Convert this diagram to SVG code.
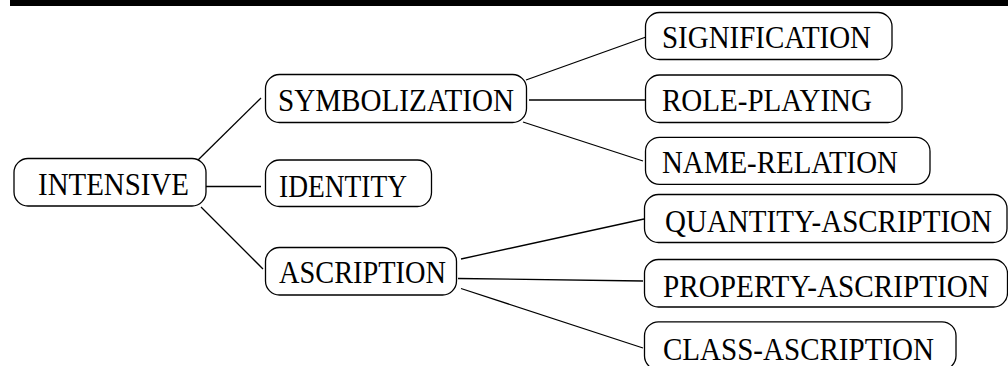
<svg xmlns="http://www.w3.org/2000/svg" width="1008" height="366" viewBox="0 0 1008 366">
  <style>
    .box { fill: #ffffff; stroke: #000000; stroke-width: 1.3; }
    .lbl { font-family: "Liberation Serif", "Times New Roman", serif; font-size: 30.5px; fill: #000000; }
    .edge { stroke: #000000; stroke-width: 1.3; fill: none; }
  </style>
  <rect width="1008" height="366" fill="#ffffff"/>
  <!-- heavy rule across the top -->
  <rect x="10" y="0" width="998" height="6" fill="#000000"/>

  <g id="connectors">
    <line class="edge" x1="196" y1="162" x2="261" y2="98"/>
    <line class="edge" x1="206" y1="186.5" x2="261" y2="186.5"/>
    <line class="edge" x1="201" y1="207" x2="263" y2="269"/>
    <line class="edge" x1="526" y1="80" x2="646" y2="37"/>
    <line class="edge" x1="529" y1="100" x2="645" y2="100"/>
    <line class="edge" x1="523" y1="122" x2="643" y2="161"/>
    <line class="edge" x1="461" y1="259" x2="644" y2="219"/>
    <line class="edge" x1="458" y1="278.5" x2="643" y2="281"/>
    <line class="edge" x1="461" y1="288.5" x2="643" y2="348"/>
  </g>

  <g id="intensive">
    <rect class="box" x="14" y="158.5" width="192" height="47.5" rx="14"/>
    <text class="lbl" x="38" y="195" textLength="151" lengthAdjust="spacingAndGlyphs">INTENSIVE</text>
  </g>
  <g id="symbolization">
    <rect class="box" x="265.5" y="74.5" width="261" height="48" rx="14"/>
    <text class="lbl" x="278" y="110.7" textLength="236" lengthAdjust="spacingAndGlyphs">SYMBOLIZATION</text>
  </g>
  <g id="identity">
    <rect class="box" x="265.5" y="160" width="166" height="46.5" rx="14"/>
    <text class="lbl" x="279" y="196.5" textLength="128" lengthAdjust="spacingAndGlyphs">IDENTITY</text>
  </g>
  <g id="ascription">
    <rect class="box" x="265.5" y="247.5" width="191" height="47.5" rx="14"/>
    <text class="lbl" x="279" y="283.3" textLength="167" lengthAdjust="spacingAndGlyphs">ASCRIPTION</text>
  </g>
  <g id="signification">
    <rect class="box" x="645.5" y="12.5" width="246.5" height="47" rx="14"/>
    <text class="lbl" x="662" y="48.3" textLength="209" lengthAdjust="spacingAndGlyphs">SIGNIFICATION</text>
  </g>
  <g id="role-playing">
    <rect class="box" x="645.5" y="75" width="256.5" height="47.5" rx="14"/>
    <text class="lbl" x="662" y="111" textLength="210" lengthAdjust="spacingAndGlyphs">ROLE-PLAYING</text>
  </g>
  <g id="name-relation">
    <rect class="box" x="645.5" y="137.3" width="284.5" height="47" rx="14"/>
    <text class="lbl" x="662" y="173.3" textLength="236" lengthAdjust="spacingAndGlyphs">NAME-RELATION</text>
  </g>
  <g id="quantity-ascription">
    <rect class="box" x="644.5" y="194.5" width="362.5" height="48" rx="14"/>
    <text class="lbl" x="665" y="231.7" textLength="327" lengthAdjust="spacingAndGlyphs">QUANTITY-ASCRIPTION</text>
  </g>
  <g id="property-ascription">
    <rect class="box" x="644.5" y="259.5" width="363" height="47.5" rx="14"/>
    <text class="lbl" x="663" y="296.7" textLength="326" lengthAdjust="spacingAndGlyphs">PROPERTY-ASCRIPTION</text>
  </g>
  <g id="class-ascription">
    <rect class="box" x="644.5" y="321.8" width="311.5" height="48" rx="14"/>
    <text class="lbl" x="663" y="360" textLength="271" lengthAdjust="spacingAndGlyphs">CLASS-ASCRIPTION</text>
  </g>
</svg>
